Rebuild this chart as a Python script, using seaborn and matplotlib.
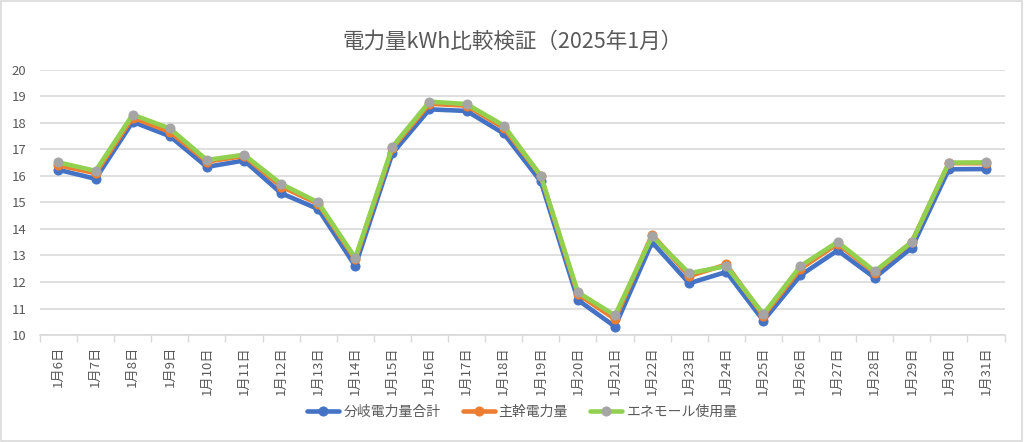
import pandas as pd
import numpy as np
import matplotlib.pyplot as plt
import seaborn as sns
from matplotlib.patches import Rectangle
from matplotlib.ticker import MultipleLocator, FixedLocator

#Data (kWh per day, January 2025)
days = [f"1月{d}日" for d in range(6, 32)]

branch_total = [16.23, 15.89, 18.04, 17.50, 16.34, 16.58, 15.35, 14.75, 12.60, 16.85,
                18.51, 18.45, 17.60, 15.79, 11.32, 10.32, 13.50, 11.95, 12.38, 10.54,
                12.25, 13.19, 12.16, 13.29, 16.25, 16.26]
main_power = [16.40, 16.10, 18.20, 17.66, 16.54, 16.75, 15.60, 14.95, 12.85, 17.04,
              18.72, 18.65, 17.81, 16.00, 11.54, 10.60, 13.79, 12.22, 12.66, 10.72,
              12.50, 13.44, 12.35, 13.51, 16.48, 16.48]
enemall_use = [16.51, 16.19, 18.31, 17.79, 16.60, 16.80, 15.70, 15.00, 12.91, 17.10,
               18.80, 18.71, 17.90, 16.01, 11.61, 10.74, 13.73, 12.33, 12.60, 10.79,
               12.60, 13.51, 12.40, 13.51, 16.50, 16.51]

series_names = ["分岐電力量合計", "主幹電力量", "エネモール使用量"]
line_colors = ["#4472C4", "#ED7D31", "#92D050"]
marker_colors = ["#4472C4", "#ED7D31", "#A5A5A5"]

df = pd.DataFrame({"日付": days * 3,
                   "値": branch_total + main_power + enemall_use,
                   "系列": [series_names[0]] * 26 + [series_names[1]] * 26 + [series_names[2]] * 26})

sns.set_theme(style="white")
plt.rcParams['font.family'] = ['Noto Sans CJK JP', 'DejaVu Sans']
text_col = "#595959"
grid_col = "#D9D9D9"

fig = plt.figure(figsize=(10.24, 4.42), dpi=100)
ax = fig.add_axes([0.039, 0.242, 0.942, 0.6])

#draw each series so the green line gets grey markers
for name, lc, mc in zip(series_names, line_colors, marker_colors):
    sub = df[df["系列"] == name]
    sns.lineplot(data=sub, x="日付", y="値", ax=ax, color=lc, linewidth=3.3,
                 marker="o", markersize=6.5, markerfacecolor=mc, markeredgecolor=mc,
                 label=name, sort=False)

ax.set_xlim(-0.5, len(days) - 0.5)
ax.set_ylim(10, 20)
ax.yaxis.set_major_locator(MultipleLocator(1))
ax.grid(axis="y", color=grid_col, linewidth=1.2)
ax.set_axisbelow(True)
ax.set_xlabel("")
ax.set_ylabel("")

for s in ["top", "right", "left"]:
    ax.spines[s].set_visible(False)
ax.spines["bottom"].set_color(grid_col)
ax.spines["bottom"].set_linewidth(1.2)

ax.set_xticks(range(len(days)))
ax.set_xticklabels(days, rotation=90)
ax.xaxis.set_minor_locator(FixedLocator(np.arange(-0.5, len(days), 1)))
ax.tick_params(axis="x", which="major", length=0, pad=8, labelsize=9.5, labelcolor=text_col)
ax.tick_params(axis="x", which="minor", length=5, width=1, color=grid_col, bottom=True)
ax.tick_params(axis="y", length=0, pad=10, labelsize=9.5, labelcolor=text_col)

fig.suptitle("電力量kWh比較検証（2025年1月）", y=0.93, fontsize=15.5, color=text_col)

ax.legend(loc="lower center", ncol=3, frameon=False, fontsize=10, labelcolor=text_col,
          handlelength=2.3, columnspacing=1.6, handletextpad=0.3)
leg = ax.get_legend()
leg.set_bbox_to_anchor((0.51, 0.025), transform=fig.transFigure)

fig.patches.append(Rectangle((0.001, 0.002), 0.997, 0.995, transform=fig.transFigure,
                             fill=False, edgecolor=grid_col, linewidth=1.2))

plt.savefig("out.png", dpi=100)
